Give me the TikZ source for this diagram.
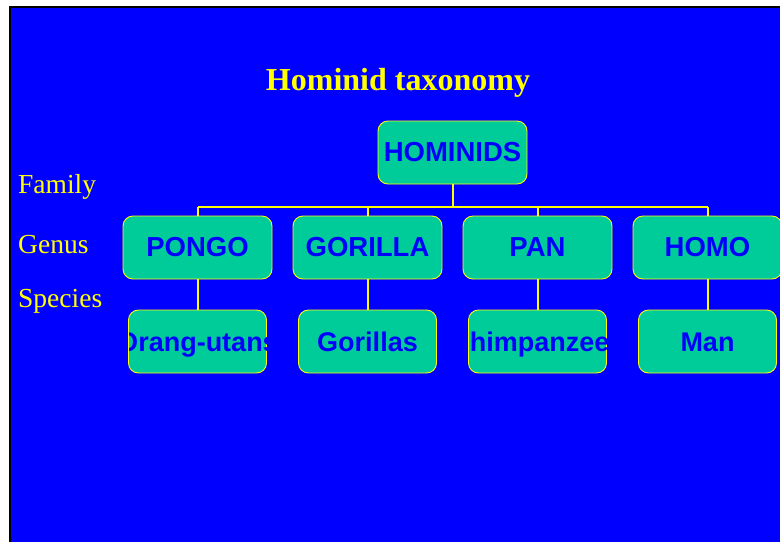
\documentclass[tikz,border=0pt]{standalone}
\usepackage{fontspec}
\setmainfont{Liberation Serif}
\newfontfamily\boxfont{Liberation Sans}
\definecolor{bgblue}{HTML}{0000FF}
\definecolor{boxgreen}{HTML}{00CC99}
\definecolor{lineyellow}{HTML}{FFFF00}
\begin{document}
\begin{tikzpicture}[x=1pt,y=-1pt,
  tbox/.style={draw=lineyellow, line width=0.9pt, fill=boxgreen, rounded corners=10pt,
    minimum width=149pt, minimum height=63pt, inner sep=0pt, outer sep=0pt,
    font=\boxfont\bfseries\fontsize{27.5}{30}\selectfont, text=bgblue},
  sbox/.style={draw=lineyellow, line width=0.9pt, fill=boxgreen, rounded corners=10pt,
    minimum width=138pt, minimum height=63pt, inner sep=0pt, outer sep=0pt},
  stext/.style={anchor=base, inner sep=0pt, font=\boxfont\bfseries\fontsize{27}{30}\selectfont, text=bgblue},
  conn/.style={draw=lineyellow, line width=2pt},
  lvl/.style={anchor=base west, inner sep=0pt, text=lineyellow, font=\fontsize{27.5}{30}\selectfont}]
\useasboundingbox (0,0) rectangle (780,542);
\fill[white] (0,0) rectangle (780,542);
\fill[black] (9,6) rectangle (780,542);
\fill[bgblue] (11,8) rectangle (780,542);

\node[anchor=base, inner sep=0pt, text=lineyellow, font=\bfseries\fontsize{32}{36}\selectfont] (title) at (398,90) {Hominid taxonomy};

\node[lvl] (family) at (18,193) {Family};
\node[lvl] (genus) at (18,253) {Genus};
\node[lvl] (species) at (18,307) {Species};

\coordinate (bus) at (452.5,207);

\node[tbox] (hom) at (452.5,152.5) {HOMINIDS};
\node[tbox] (pongo) at (197.5,247.5) {PONGO};
\node[tbox] (gorilla) at (367.5,247.5) {GORILLA};
\node[tbox] (pan) at (537.5,247.5) {PAN};
\node[tbox] (homo) at (707.5,247.5) {HOMO};

\node[sbox] (orang) at (197.5,341.5) {};
\node[sbox] (gor) at (367.5,341.5) {};
\node[sbox] (chimp) at (537.5,341.5) {};
\node[sbox] (man) at (707.5,341.5) {};

\begin{scope}
\clip[rounded corners=10pt] (orang.south west) rectangle (orang.north east);
\node[stext] (orangt) at ([yshift=-9.5pt]orang.center) {Orang-utans};
\end{scope}
\node[stext] (gort) at ([yshift=-9.5pt]gor.center) {Gorillas};
\begin{scope}
\clip[rounded corners=10pt] (chimp.south west) rectangle (chimp.north east);
\node[stext] (chimpt) at ([yshift=-9.5pt]chimp.center) {Chimpanzees};
\end{scope}
\node[stext] (mant) at ([yshift=-9.5pt]man.center) {Man};

\draw[conn] (hom.south) -- (hom.south |- bus);
\draw[conn] (pongo.north |- bus) -- (homo.north |- bus);
\foreach \g in {pongo,gorilla,pan,homo} {
  \draw[conn] (\g.north) -- (\g.north |- bus);
}
\draw[conn] (pongo.south) -- (orang.north);
\draw[conn] (gorilla.south) -- (gor.north);
\draw[conn] (pan.south) -- (chimp.north);
\draw[conn] (homo.south) -- (man.north);
\end{tikzpicture}
\end{document}
